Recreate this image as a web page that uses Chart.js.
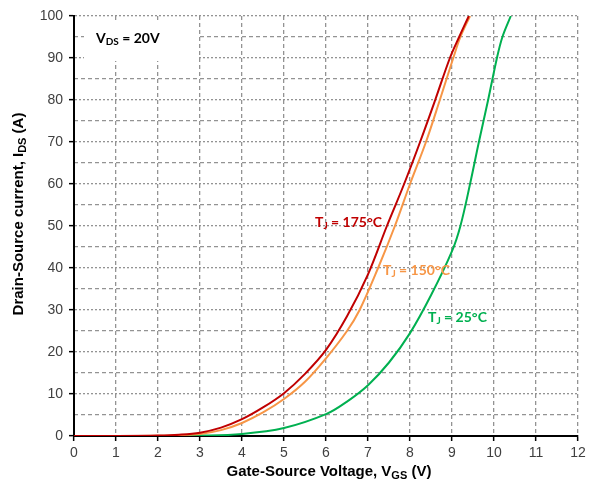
<!DOCTYPE html>
<html>
<head>
<meta charset="utf-8">
<script src="https://cdn.jsdelivr.net/npm/chart.js@4.4.0/dist/chart.umd.min.js"></script>
<style>
  html, body { margin: 0; padding: 0; background: #fff; }
</style>
</head>
<body>
<canvas id="myChart" width="595" height="485"></canvas>
<script>
// axis ticks
var xTicks = [0, 1, 2, 3, 4, 5, 6, 7, 8, 9, 10, 11, 12];
var yTicks = [0, 10, 20, 30, 40, 50, 60, 70, 80, 90, 100];
var yMinorTicks = [5, 15, 25, 35, 45, 55, 65, 75, 85, 95];

// Tj = 175°C
var vgs175 = [0, 1, 2, 2.5, 3, 3.5, 4, 4.5, 5, 5.5, 6, 6.5, 7, 7.45, 7.86, 8.24, 8.6, 8.95, 9.17, 9.4];
var ids175 = [0, 0, 0.1, 0.3, 0.8, 2, 4, 6.8, 10.2, 14.8, 20.5, 28.5, 38.5, 50, 60, 70, 80, 90, 95, 100];

// Tj = 150°C
var vgs150 = [0, 1, 2, 2.5, 3, 3.5, 4, 4.5, 5, 5.5, 6, 6.5, 6.8, 7.24, 7.64, 8.0, 8.38, 8.71, 9.03, 9.2, 9.43];
var ids150 = [0, 0, 0.05, 0.2, 0.5, 1.4, 3.1, 5.6, 8.8, 12.9, 18.5, 25, 30, 40, 50, 60, 70, 80, 90, 95, 100];

// Tj = 25°C
var vgs25 = [0, 1, 2, 3, 4, 5, 6, 6.5, 7, 7.5, 8, 8.5, 9, 9.2, 9.43, 9.64, 9.86, 10.07, 10.2, 10.4];
var ids25 = [0, 0, 0, 0.1, 0.5, 1.9, 5.2, 8.2, 12.1, 17.5, 24.5, 33.5, 44, 50, 60, 70, 80, 90, 95, 100];

var seriesNames = ["Tj = 175°C", "Tj = 150°C", "Tj = 25°C"];
var seriesColors = ["#c00000", "#f79646", "#00b050"];

function toPoints(xs, ys) {
    return xs.map(function (x, i) {
        return { x: x, y: ys[i] };
    });
}

var gridColor = "#939393";
var labelFont = '"Liberation Sans", Arial, sans-serif';
var noteFont = 'Lato, "Open Sans", sans-serif';

// draw a text made of parts, some of them subscript
function drawParts(ctx, parts, x, y, size, family, align) {
    var w = 0;
    parts.forEach(function (p) {
        ctx.font = "bold " + (p.sub ? Math.round(size * 0.72) : size) + "px " + family;
        w += ctx.measureText(p.t).width;
    });
    var cx = align == "center" ? x - w / 2 : x;
    ctx.textAlign = "left";
    ctx.textBaseline = "middle";
    parts.forEach(function (p) {
        ctx.font = "bold " + (p.sub ? Math.round(size * 0.72) : size) + "px " + family;
        ctx.fillText(p.t, cx, p.sub ? y + size * 0.28 : y);
        cx += ctx.measureText(p.t).width;
    });
}

var textPlugin = {
    id: "textPlugin",
    beforeDatasetsDraw: function (chart) {
        var ctx = chart.ctx;
        ctx.save();
        // box behind V_DS note
        ctx.fillStyle = "#ffffff";
        ctx.fillRect(84, 20, 113, 41);
        ctx.fillStyle = "#000000";
        drawParts(ctx, [{ t: "V" }, { t: "DS", sub: true }, { t: " = 20V" }], 96, 38, 14, noteFont, "left");
        ctx.restore();
    },
    afterDatasetsDraw: function (chart) {
        var ctx = chart.ctx;
        ctx.save();
        ctx.fillStyle = seriesColors[0];
        drawParts(ctx, [{ t: "T" }, { t: "J", sub: true }, { t: " = 175°C" }], 315, 222, 14, noteFont, "left");
        ctx.fillStyle = seriesColors[1];
        drawParts(ctx, [{ t: "T" }, { t: "J", sub: true }, { t: " = 150°C" }], 383, 270, 14, noteFont, "left");
        ctx.fillStyle = seriesColors[2];
        drawParts(ctx, [{ t: "T" }, { t: "J", sub: true }, { t: " = 25°C" }], 428, 317, 14, noteFont, "left");

        // axis titles
        ctx.fillStyle = "#000000";
        drawParts(ctx, [{ t: "Gate-Source Voltage, V" }, { t: "GS", sub: true }, { t: " (V)" }], 329, 472, 15, labelFont, "center");
        ctx.translate(19, 214);
        ctx.rotate(-Math.PI / 2);
        drawParts(ctx, [{ t: "Drain-Source current, I" }, { t: "DS", sub: true }, { t: " (A)" }], 0, 0, 15, labelFont, "center");
        ctx.restore();
    }
};

var ctx = document.getElementById("myChart").getContext("2d");
var myChart = new Chart(ctx, {
    type: "line",
    data: {
        datasets: [
            { label: seriesNames[0], data: toPoints(vgs175, ids175), borderColor: seriesColors[0] },
            { label: seriesNames[1], data: toPoints(vgs150, ids150), borderColor: seriesColors[1] },
            { label: seriesNames[2], data: toPoints(vgs25, ids25), borderColor: seriesColors[2] }
        ]
    },
    options: {
        responsive: false,
        animation: false,
        layout: { padding: { left: 0, top: 16, right: 17, bottom: 0 } },
        elements: {
            point: { radius: 0 },
            line: { borderWidth: 2, tension: 0.35, fill: false, capBezierPoints: true }
        },
        plugins: {
            legend: { display: false },
            tooltip: { enabled: false }
        },
        scales: {
            x: {
                type: "linear",
                min: 0,
                max: 12,
                afterBuildTicks: function (scale) {
                    scale.ticks = xTicks.map(function (v) { return { value: v }; });
                },
                afterFit: function (scale) { scale.height = 49; },
                ticks: { color: "#404040", font: { size: 14, family: labelFont }, padding: 4, maxRotation: 0 },
                grid: {
                    color: function (c) { return c.tick && c.tick.value == 0 ? "rgba(0,0,0,0)" : gridColor; },
                    lineWidth: 1.3,
                    tickLength: 5,
                    tickColor: "#000000",
                    tickWidth: 1.5
                },
                border: { color: "#000000", width: 2, dash: [4, 3] }
            },
            y: {
                min: 0,
                max: 100,
                afterBuildTicks: function (scale) {
                    scale.ticks = yTicks.map(function (v) { return { value: v }; });
                },
                afterFit: function (scale) { scale.width = 74; },
                ticks: { color: "#404040", font: { size: 14, family: labelFont }, padding: 6 },
                grid: {
                    color: function (c) { return c.tick && c.tick.value == 0 ? "rgba(0,0,0,0)" : gridColor; },
                    lineWidth: 1.3,
                    tickLength: 5,
                    tickColor: "#000000",
                    tickWidth: 1.5
                },
                border: { color: "#000000", width: 2, dash: [2, 2] }
            },
            yMinor: {
                position: "left",
                min: 0,
                max: 100,
                afterBuildTicks: function (scale) {
                    scale.ticks = yMinorTicks.map(function (v) { return { value: v }; });
                },
                afterFit: function (scale) { scale.width = 0; },
                ticks: { display: false },
                grid: { color: gridColor, lineWidth: 1.3, drawTicks: false },
                border: { display: false, dash: [4, 3] }
            }
        }
    },
    plugins: [textPlugin]
});
</script>
</body>
</html>
